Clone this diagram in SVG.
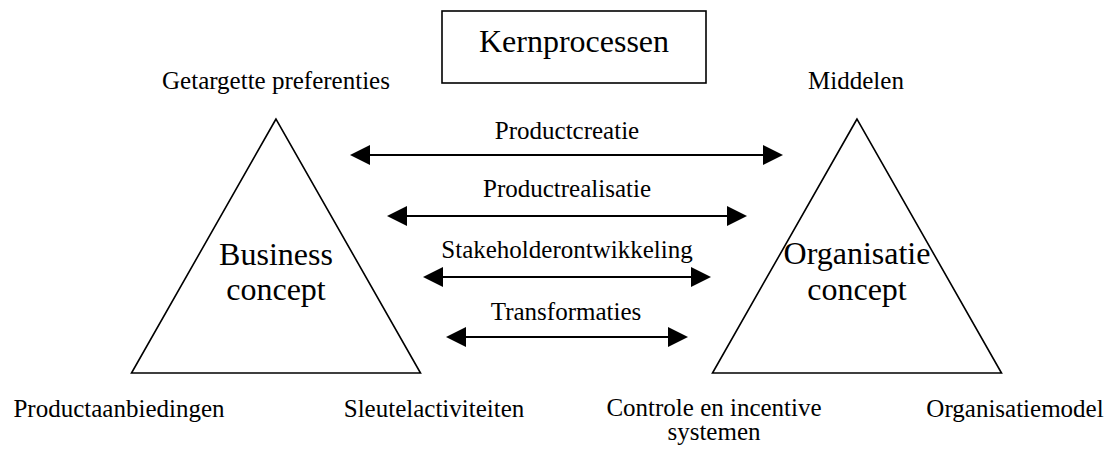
<svg xmlns="http://www.w3.org/2000/svg" width="1109" height="450" viewBox="0 0 1109 450">
  <style>
    .lbl { font-size: 25px; }
    .big { font-size: 32px; }
    .mid { text-anchor: middle; }
    .shape { fill: none; stroke: #000; stroke-width: 1.6; }
    .conn { stroke: #000; stroke-width: 2; fill: none; }
    .head { fill: #000; }
  </style>

  <rect width="1109" height="450" fill="#fff"/>

  <g font-family="Liberation Serif, DejaVu Serif, serif" fill="#000">
    <!-- Title box -->
    <g id="kernprocessen">
      <rect class="shape" x="442" y="11" width="264" height="72"/>
      <text class="big mid" x="574" y="52">Kernprocessen</text>
    </g>

    <!-- Business concept triangle -->
    <g id="business-concept">
      <polygon class="shape" points="276,119 131.5,373 420.5,373"/>
      <text class="big mid" x="276" y="265">Business</text>
      <text class="big mid" x="276" y="300">concept</text>
      <text class="lbl mid" x="276" y="89">Getargette preferenties</text>
      <text class="lbl mid" x="119" y="417">Productaanbiedingen</text>
      <text class="lbl mid" x="434" y="417">Sleutelactiviteiten</text>
    </g>

    <!-- Organisatie concept triangle -->
    <g id="organisatie-concept">
      <polygon class="shape" points="857,119 712.5,373 1001.5,373"/>
      <text class="big mid" x="857" y="264">Organisatie</text>
      <text class="big mid" x="857" y="300">concept</text>
      <text class="lbl mid" x="856" y="89">Middelen</text>
      <text class="lbl mid" x="714" y="416">Controle en incentive<tspan x="714" dy="24">systemen</tspan></text>
      <text class="lbl mid" x="1015" y="417">Organisatiemodel</text>
    </g>

    <!-- Two-way process connectors -->
    <g id="connectors">
      <g id="productcreatie">
        <line class="conn" x1="368" y1="155" x2="765" y2="155"/>
        <polygon class="head" points="350,155 370,145 370,165"/>
        <polygon class="head" points="783,155 763,145 763,165"/>
        <text class="lbl mid" x="567" y="139">Productcreatie</text>
      </g>
      <g id="productrealisatie">
        <line class="conn" x1="405" y1="216" x2="729" y2="216"/>
        <polygon class="head" points="387,216 407,206 407,226"/>
        <polygon class="head" points="747,216 727,206 727,226"/>
        <text class="lbl mid" x="567" y="197">Productrealisatie</text>
      </g>
      <g id="stakeholderontwikkeling">
        <line class="conn" x1="441" y1="277" x2="693" y2="277"/>
        <polygon class="head" points="423,277 443,267 443,287"/>
        <polygon class="head" points="711,277 691,267 691,287"/>
        <text class="lbl mid" x="567" y="258">Stakeholderontwikkeling</text>
      </g>
      <g id="transformaties">
        <line class="conn" x1="464" y1="337" x2="670" y2="337"/>
        <polygon class="head" points="446,337 466,327 466,347"/>
        <polygon class="head" points="688,337 668,327 668,347"/>
        <text class="lbl mid" x="566" y="320">Transformaties</text>
      </g>
    </g>
  </g>
</svg>
